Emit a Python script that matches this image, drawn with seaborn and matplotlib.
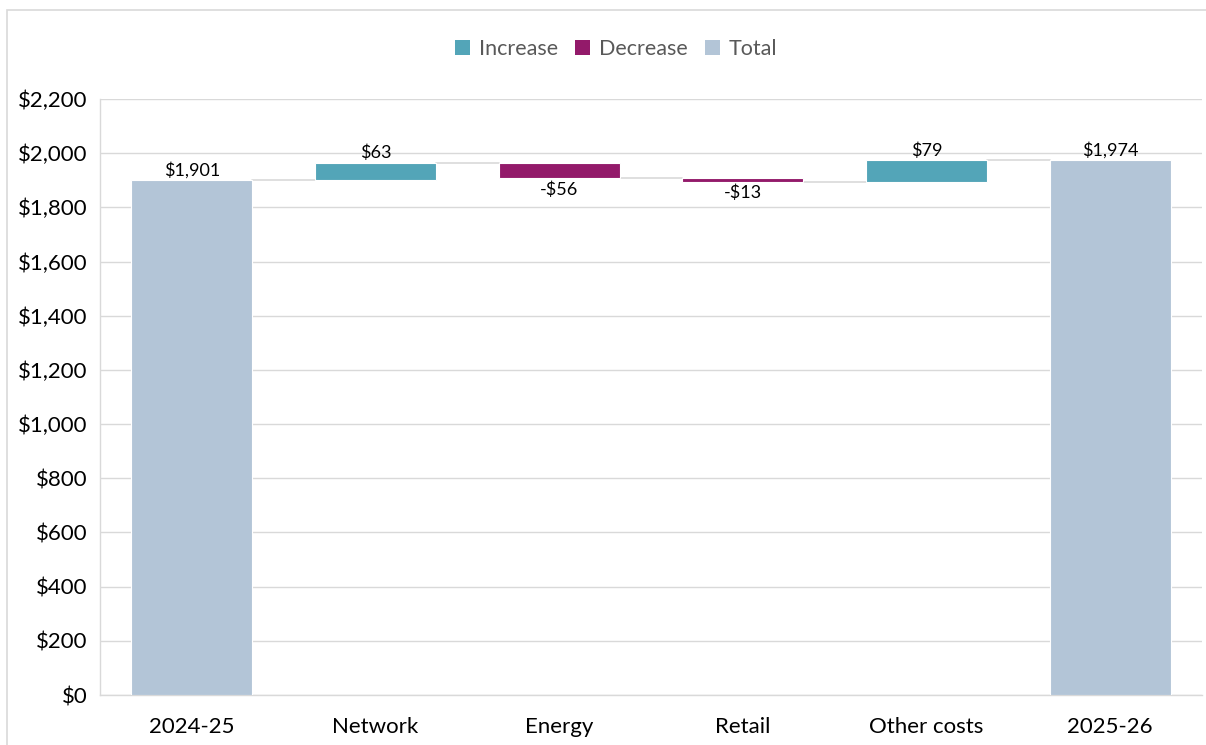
import matplotlib
matplotlib.use("Agg")
import matplotlib.pyplot as plt
import seaborn as sns
import pandas as pd
from matplotlib.patches import Rectangle, Patch

categories = ["2024-25", "Network", "Energy", "Retail", "Other costs", "2025-26"]
changes = [1901, 63, -56, -13, 79, 1974]
kinds = ["Total", "Increase", "Decrease", "Decrease", "Increase", "Total"]
labels = ["$1,901", "$63", "-$56", "-$13", "$79", "$1,974"]
yticks = [0, 200, 400, 600, 800, 1000, 1200, 1400, 1600, 1800, 2000, 2200]
legend_order = ["Increase", "Decrease", "Total"]
palette = {"Increase": "#53A5B8", "Decrease": "#931A6A", "Total": "#B3C5D7"}

# compute bottoms/tops of waterfall
bottoms, tops = [], []
running = 0
for c, k in zip(changes, kinds):
    if k == "Total":
        bottoms.append(0)
        tops.append(c)
        running = c
    else:
        new = running + c
        bottoms.append(min(running, new))
        tops.append(max(running, new))
        running = new
heights = [t - b for t, b in zip(tops, bottoms)]

df = pd.DataFrame({"category": categories, "height": heights, "kind": kinds})

sns.set_theme(style="white")
plt.rcParams["font.family"] = ["Lato", "DejaVu Sans"]

fig = plt.figure(figsize=(12.06, 7.45), dpi=100)
ax = fig.add_axes([100 / 1206, 1 - 695 / 745, 1102 / 1206, (695 - 99) / 745])

sns.barplot(data=df, x="category", y="height", hue="kind", hue_order=legend_order,
            palette=palette, dodge=False, width=0.66, saturation=1, ax=ax,
            legend=False, zorder=3, edgecolor="white", linewidth=0.8)

# shift bars to their waterfall bottoms
for p in ax.patches:
    cx = p.get_x() + p.get_width() / 2
    i = int(round(cx))
    if 0 <= i < len(categories) and p.get_height() > 0:
        p.set_y(bottoms[i])

# connectors
levels = []
running = 0
for c, k in zip(changes, kinds):
    running = c if k == "Total" else running + c
    levels.append(running)
hw = 0.33
for i in range(len(categories) - 1):
    ax.plot([i + hw, i + 1 - hw], [levels[i], levels[i]], color="#D9D9D9", lw=1.2, zorder=2)

# data labels
for i, (lab, k) in enumerate(zip(labels, kinds)):
    if k == "Decrease":
        ax.text(i, bottoms[i] - 12, lab, ha="center", va="top", fontsize=13, color="#000000")
    else:
        ax.text(i, tops[i] + 6, lab, ha="center", va="bottom", fontsize=13, color="#000000")

ax.set_xlim(-0.5, len(categories) - 0.5)
ax.set_ylim(0, 2200)
ax.set_yticks(yticks)
ax.set_yticklabels([f"${v:,}" for v in yticks])
ax.set_xlabel("")
ax.set_ylabel("")
ax.yaxis.grid(True, color="#D9D9D9", lw=1, zorder=0)
ax.set_axisbelow(True)
for s in ["top", "right"]:
    ax.spines[s].set_visible(False)
for s in ["left", "bottom"]:
    ax.spines[s].set_color("#D9D9D9")
    ax.spines[s].set_linewidth(1)
ax.tick_params(axis="both", length=0, labelsize=16, colors="#000000")
ax.tick_params(axis="y", pad=9)
ax.tick_params(axis="x", pad=16)

handles = [Patch(facecolor=palette[k], edgecolor="none") for k in legend_order]
fig.legend(handles, legend_order, loc="center", bbox_to_anchor=(0.511, 1 - 49 / 745),
           ncol=3, frameon=False, fontsize=15.5, handlelength=0.7, handleheight=0.7,
           handletextpad=0.4, columnspacing=0.8, labelcolor="#595959")

fig.patches.append(Rectangle((7 / 1206, -0.05), 1.2, 1 - 10 / 745 + 0.05,
                             transform=fig.transFigure, fill=False,
                             edgecolor="#D9D9D9", lw=1.2, zorder=0))

fig.savefig("out.png", dpi=100)
